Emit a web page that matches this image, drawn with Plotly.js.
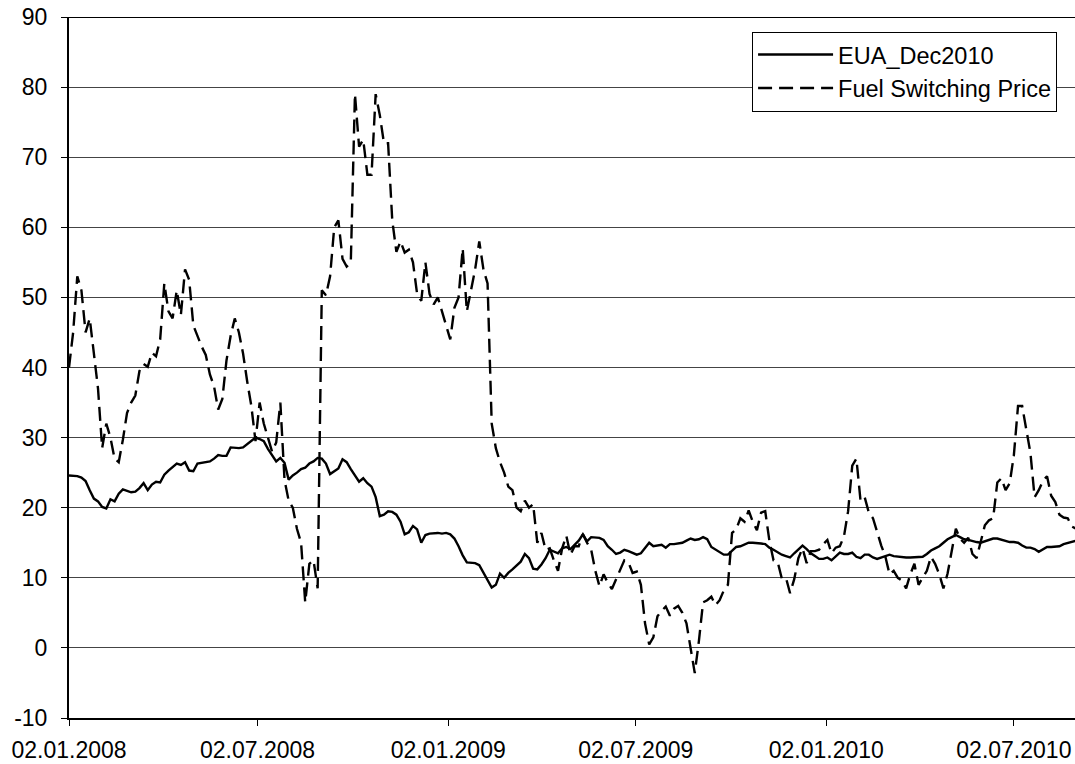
<!DOCTYPE html>
<html>
<head>
<meta charset="utf-8">
<script src="https://cdn.plot.ly/plotly-3.0.1.min.js"></script>
<style>html,body{margin:0;padding:0;background:#fff;}#chart{width:1075px;height:764px;}</style>
</head>
<body>
<div id="chart"></div>
<script>
const dates = [
"2008-01-02","2008-01-06","2008-01-10","2008-01-14","2008-01-18","2008-01-22","2008-01-26","2008-01-30",
"2008-02-03","2008-02-07","2008-02-11","2008-02-15","2008-02-19","2008-02-23","2008-02-27",
"2008-03-02","2008-03-06","2008-03-10","2008-03-14","2008-03-18","2008-03-22","2008-03-26","2008-03-30",
"2008-04-03","2008-04-07","2008-04-11","2008-04-15","2008-04-19","2008-04-23","2008-04-27",
"2008-05-01","2008-05-05","2008-05-09","2008-05-13","2008-05-17","2008-05-21","2008-05-25","2008-05-29",
"2008-06-02","2008-06-06","2008-06-10","2008-06-14","2008-06-18","2008-06-22","2008-06-26","2008-06-30",
"2008-07-04","2008-07-08","2008-07-12","2008-07-16","2008-07-20","2008-07-24","2008-07-28",
"2008-08-01","2008-08-05","2008-08-09","2008-08-13","2008-08-17","2008-08-21","2008-08-25","2008-08-29",
"2008-09-02","2008-09-06","2008-09-10","2008-09-14","2008-09-18","2008-09-22","2008-09-26","2008-09-30",
"2008-10-04","2008-10-08","2008-10-12","2008-10-16","2008-10-20","2008-10-24","2008-10-28",
"2008-11-01","2008-11-05","2008-11-09","2008-11-13","2008-11-17","2008-11-21","2008-11-25","2008-11-29",
"2008-12-03","2008-12-07","2008-12-11","2008-12-15","2008-12-19","2008-12-23","2008-12-27","2008-12-31",
"2009-01-04","2009-01-08","2009-01-12","2009-01-16","2009-01-20","2009-01-24","2009-01-28",
"2009-02-01","2009-02-05","2009-02-09","2009-02-13","2009-02-17","2009-02-21","2009-02-25",
"2009-03-01","2009-03-05","2009-03-09","2009-03-13","2009-03-17","2009-03-21","2009-03-25","2009-03-29",
"2009-04-02","2009-04-06","2009-04-10","2009-04-14","2009-04-18","2009-04-22","2009-04-26","2009-04-30",
"2009-05-04","2009-05-08","2009-05-12","2009-05-16","2009-05-20","2009-05-24","2009-05-28",
"2009-06-01","2009-06-05","2009-06-09","2009-06-13","2009-06-17","2009-06-21","2009-06-25","2009-06-29",
"2009-07-03","2009-07-07","2009-07-11","2009-07-15","2009-07-19","2009-07-23","2009-07-27","2009-07-31",
"2009-08-04","2009-08-08","2009-08-12","2009-08-16","2009-08-20","2009-08-24","2009-08-28",
"2009-09-01","2009-09-05","2009-09-09","2009-09-13","2009-09-17","2009-09-21","2009-09-25","2009-09-29",
"2009-10-03","2009-10-07","2009-10-11","2009-10-15","2009-10-19","2009-10-23","2009-10-27","2009-10-31",
"2009-11-04","2009-11-08","2009-11-12","2009-11-16","2009-11-20","2009-11-24","2009-11-28",
"2009-12-02","2009-12-06","2009-12-10","2009-12-14","2009-12-18","2009-12-22","2009-12-26","2009-12-30",
"2010-01-03","2010-01-07","2010-01-11","2010-01-15","2010-01-19","2010-01-23","2010-01-27","2010-01-31",
"2010-02-04","2010-02-08","2010-02-12","2010-02-16","2010-02-20","2010-02-24","2010-02-28",
"2010-03-04","2010-03-08","2010-03-12","2010-03-16","2010-03-20","2010-03-24","2010-03-28",
"2010-04-01","2010-04-05","2010-04-09","2010-04-13","2010-04-17","2010-04-21","2010-04-25","2010-04-29",
"2010-05-03","2010-05-07","2010-05-11","2010-05-15","2010-05-19","2010-05-23","2010-05-27","2010-05-31",
"2010-06-04","2010-06-08","2010-06-12","2010-06-16","2010-06-20","2010-06-24","2010-06-28",
"2010-07-02","2010-07-06","2010-07-10","2010-07-14","2010-07-18","2010-07-22","2010-07-26","2010-07-30",
"2010-08-03","2010-08-07","2010-08-11","2010-08-15","2010-08-19","2010-08-23","2010-08-27","2010-08-31"
];

const euaDec2010 = [
24.6, 24.6, 24.5, 24.3, 23.8, 22.5, 21.3, 20.9, 20.1, 19.9,
21.2, 20.9, 22, 22.6, 22.4, 22.2, 22.3, 22.8, 23.5, 22.5,
23.3, 23.7, 23.6, 24.7, 25.3, 25.8, 26.3, 26.1, 26.5, 25.3,
25.2, 26.3, 26.4, 26.5, 26.6, 27, 27.5, 27.4, 27.4, 28.6,
28.5, 28.5, 28.6, 29.1, 29.6, 30, 29.8, 29.5, 28.4, 27.5,
26.6, 27.1, 26.4, 24, 24.6, 25, 25.5, 25.7, 26.3, 26.6,
27.1, 27, 26.3, 24.8, 25.2, 25.6, 26.9, 26.5, 25.5, 24.5,
23.7, 24.2, 23.5, 23, 21.5, 18.8, 19, 19.5, 19.4, 19,
18, 16.2, 16.5, 17.4, 16.9, 15, 16.1, 16.3, 16.4, 16.4,
16.3, 16.4, 16.2, 15.6, 14.5, 13.2, 12.2, 12.1, 12.1, 11.8,
10.8, 9.6, 8.6, 9, 10.6, 10, 10.7, 11.2, 11.7, 12.3,
13.4, 12.8, 11.3, 11.2, 11.9, 12.8, 14, 13.8, 13.5, 14.2,
14.4, 14.1, 14.7, 15.3, 16.2, 15.2, 15.8, 15.8, 15.7, 15.4,
14.5, 14, 13.4, 13.6, 14, 13.8, 13.6, 13.3, 13.5, 14.3,
15, 14.5, 14.6, 14.7, 14.3, 14.8, 14.8, 14.9, 15, 15.3,
15.6, 15.4, 15.5, 15.8, 15.5, 14.4, 14, 13.6, 13.3, 13.3,
13.8, 14.4, 14.5, 14.7, 15, 15, 15, 14.9, 14.8, 14.3,
14, 13.6, 13.3, 13.1, 12.9, 13.5, 14, 14.6, 14.1, 13.5,
13.1, 12.7, 12.7, 12.9, 12.5, 13, 13.6, 13.4, 13.4, 13.6,
13, 12.8, 13.3, 13.3, 12.9, 12.7, 12.9, 13.1, 13.3, 13.1,
13, 13, 12.9, 12.9, 12.9, 13, 13, 13.4, 13.9, 14.2,
14.5, 15, 15.5, 15.8, 16.1, 15.8, 15.5, 15.4, 15.2, 15.1,
15, 15.2, 15.4, 15.6, 15.6, 15.4, 15.2, 15.1, 15.1, 15,
14.6, 14.3, 14.3, 14.1, 13.7, 14.1, 14.4, 14.4, 14.4, 14.5,
14.8, 15, 15.1, 15.3
];

const fuelSwitchingPrice = [
40, 45, 53, 51, 45, 47, 42, 37, 28.5, 32,
30, 27, 26.5, 29.7, 33.5, 35, 36, 39.5, 40.5, 40.1,
42.1, 41.6, 44, 52, 48, 47, 51, 47.5, 54, 52.5,
46, 44.5, 43, 41.8, 39, 37.3, 34, 35.5, 41, 44.5,
47, 45, 42, 38, 34.5, 29.5, 35, 32, 30, 28,
29.3, 35, 24, 21, 20, 17, 15, 6.5, 12, 12.5,
8.5, 51, 50.3, 53, 60, 61, 55.5, 54.4, 55, 79,
71.5, 72.5, 67.5, 67.5, 79, 76, 72, 72, 61, 56.5,
58, 56.4, 56.8, 55, 50.5, 49.5, 55, 50.5, 49, 50,
48, 46, 44, 48.5, 50, 57, 48, 51, 54, 58,
54, 52, 32, 28.5, 26.5, 25, 23, 22.5, 20, 19.5,
21, 20, 20.5, 15, 16.4, 14, 14.2, 12.5, 11, 14.2,
16, 13.3, 14.5, 14.5, 16.2, 15, 14, 11, 8.8, 10.5,
9.3, 8.4, 9.8, 11, 12.5, 12.2, 10.7, 10.9, 9, 3.5,
0.5, 1.5, 4.5, 5.3, 5.9, 4.6, 5.6, 6, 5, 3.5,
0, -3.6, 1, 6.5, 6.8, 7.3, 6.1, 6.8, 8.2, 9,
16.4, 16.9, 18.5, 18, 19.6, 18, 16.8, 19.3, 19.5, 15.3,
12.5, 12.3, 9.9, 10, 7.8, 9.8, 12.8, 14.2, 12.1, 13.8,
13.8, 14, 14.8, 15.4, 13.5, 14.3, 14.5, 15.9, 19.5, 26,
27, 21, 21.5, 19.3, 18.5, 16.5, 14.6, 13, 10.5, 11,
10, 9.6, 8.5, 10.5, 12, 9, 10, 11, 13, 12,
10.5, 8.5, 10.6, 14, 17, 15.6, 15, 15.7, 13.4, 12.8,
15, 17.5, 18.2, 18.5, 23.6, 24.2, 22.5, 23.5, 27.5, 34.5,
34.5, 31, 27.8, 21.5, 22.5, 23.8, 24.5, 21.7, 20.8, 19,
18.6, 18.5, 17.3, 17
];

const xTickVals = ["2008-01-02","2008-07-02","2009-01-02","2009-07-02","2010-01-02","2010-07-02"];
const xTickText = ["02.01.2008","02.07.2008","02.01.2009","02.07.2009","02.01.2010","02.07.2010"];
const yTickVals = [-10, 0, 10, 20, 30, 40, 50, 60, 70, 80, 90];
const yTickText = ["-10", "0", "10", "20", "30", "40", "50", "60", "70", "80", "90"];
const seriesNames = ["EUA_Dec2010","Fuel Switching Price"];

const FONT = "Liberation Sans, Arial, Helvetica, sans-serif";

const traces = [
  {x: dates, y: euaDec2010, name: seriesNames[0], type: "scatter", mode: "lines",
   line: {color: "#000", width: 2.4}},
  {x: dates, y: fuelSwitchingPrice, name: seriesNames[1], type: "scatter", mode: "lines",
   line: {color: "#000", width: 2.4, dash: "14px,7px"}}
];

const layout = {
  width: 1075, height: 764,
  margin: {l: 69, r: 0, t: 17, b: 46},
  paper_bgcolor: "#fff", plot_bgcolor: "#fff",
  font: {family: FONT, size: 23, color: "#000"},
  showlegend: true,
  legend: {x: 0.679, y: 0.979, xanchor: "left", yanchor: "top",
           bgcolor: "#fff", bordercolor: "#000", borderwidth: 1,
           font: {family: FONT, size: 23.5, color: "#000"},
           itemwidth: 75, tracegroupgap: 0},
  xaxis: {type: "date", range: ["2008-01-02", "2010-08-30"],
          tickmode: "array", tickvals: xTickVals, ticktext: xTickText,
          showgrid: false, zeroline: false,
          showline: true, linecolor: "#000", linewidth: 2,
          ticks: "outside", ticklen: 6, tickcolor: "#000", tickwidth: 1,
          ticklabelstandoff: 4,
          tickfont: {family: FONT, size: 23, color: "#000"}},
  yaxis: {range: [-10, 90], tickmode: "array", tickvals: yTickVals, ticktext: yTickText,
          showgrid: true, gridcolor: "#444", gridwidth: 1,
          zeroline: false,
          showline: true, linecolor: "#000", linewidth: 2,
          ticks: "outside", ticklen: 6, tickcolor: "#000", tickwidth: 1,
          ticklabelstandoff: 9,
          tickfont: {family: FONT, size: 23, color: "#000"}},
  shapes: [
    {type: "line", xref: "paper", x0: 0, x1: 1, yref: "y", y0: 90, y1: 90,
     line: {color: "#000", width: 2}, layer: "above"}
  ]
};

Plotly.newPlot("chart", traces, layout, {staticPlot: true, displayModeBar: false});
</script>
</body>
</html>
